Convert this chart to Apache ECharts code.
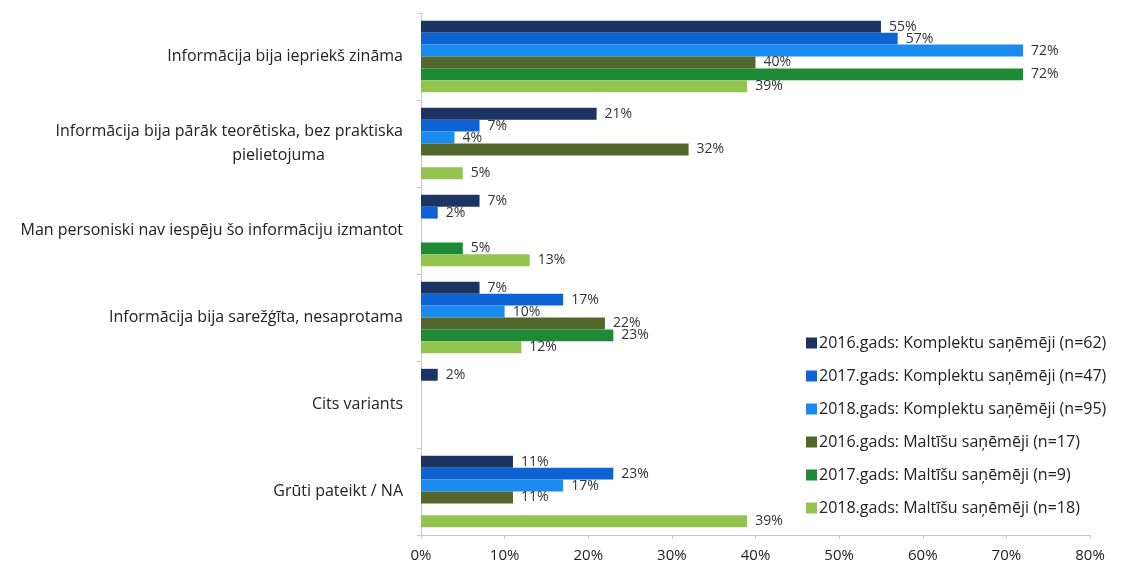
<!DOCTYPE html>
<html><head><meta charset="utf-8">
<script src="https://cdn.jsdelivr.net/npm/echarts@6/dist/echarts.min.js"></script>
<style>html,body{margin:0;padding:0;background:#fff}#c{width:1135px;height:569px}</style>
</head><body><div id="c"></div>
<script>
const categories = [
  "Informācija bija iepriekš zināma",
  "Informācija bija pārāk teorētiska, bez praktiska\npielietojuma",
  "Man personiski nav iespēju šo informāciju izmantot",
  "Informācija bija sarežģīta, nesaprotama",
  "Cits variants",
  "Grūti pateikt / NA"
];
const seriesNames = [
  "2016.gads: Komplektu saņēmēji (n=62)",
  "2017.gads: Komplektu saņēmēji (n=47)",
  "2018.gads: Komplektu saņēmēji (n=95)",
  "2016.gads: Maltīšu saņēmēji (n=17)",
  "2017.gads: Maltīšu saņēmēji (n=9)",
  "2018.gads: Maltīšu saņēmēji (n=18)"
];
const k2016 = [55, 21, 7, 7, 2, 11];
const k2017 = [57, 7, 2, 17, null, 23];
const k2018 = [72, 4, null, 10, null, 17];
const m2016 = [40, 32, null, 22, null, 11];
const m2017 = [72, null, 5, 23, null, null];
const m2018 = [39, 5, 13, 12, null, 39];
const xTicks = [0, 10, 20, 30, 40, 50, 60, 70, 80];

const colors = ['#1c3461', '#0e63d4', '#1a8cf0', '#52672c', '#1f8a35', '#94c450'];
const allData = [k2016, k2017, k2018, m2016, m2017, m2018];
const font = '"Open Sans", Lato, sans-serif';

const chart = echarts.init(document.getElementById('c'));
chart.setOption({
  animation: false,
  color: colors,
  grid: { left: 421, right: 45, top: 13, bottom: 34, containLabel: false },
  legend: {
    orient: 'vertical', left: 801, top: 330, itemGap: 17,
    itemWidth: 11, itemHeight: 11, icon: 'rect',
    textStyle: { fontFamily: font, fontSize: 16, lineHeight: 16, color: '#222', padding: [0, 0, 0, -3] },
    data: seriesNames
  },
  xAxis: {
    type: 'value', min: xTicks[0], max: xTicks[xTicks.length - 1], interval: 10,
    axisLine: { show: true, lineStyle: { color: '#c8c8c8' } },
    axisTick: { show: true, length: 4, lineStyle: { color: '#c8c8c8' } },
    splitLine: { show: false },
    axisLabel: { formatter: v => v + '%', fontFamily: font, fontSize: 15, color: '#222', margin: 13 }
  },
  yAxis: {
    type: 'category', inverse: true, data: categories,
    axisLine: { show: true, lineStyle: { color: '#c8c8c8' } },
    axisTick: { show: true, length: 4, lineStyle: { color: '#c8c8c8' } },
    axisLabel: {
      fontFamily: font, fontSize: 16, color: '#222', margin: 18, lineHeight: 24,
      formatter: v => {
        const parts = v.split('\n');
        if (parts.length === 1) return v;
        return '{a|' + parts[0] + '}\n{b|' + parts[1] + '}';
      },
      rich: {
        a: { fontFamily: font, fontSize: 16, color: '#222', lineHeight: 24 },
        b: { fontFamily: font, fontSize: 16, color: '#222', lineHeight: 24, align: 'right', padding: [0, 78, 0, 0] }
      }
    }
  },
  series: seriesNames.map((n, i) => ({
    name: n, type: 'bar', data: allData[i],
    barGap: '0%', barCategoryGap: '18%',
    itemStyle: { color: colors[i] },
    label: { show: true, position: 'right', formatter: '{c}%', fontFamily: font, fontSize: 14, color: '#333', distance: 8 }
  }))
});
</script></body></html>
